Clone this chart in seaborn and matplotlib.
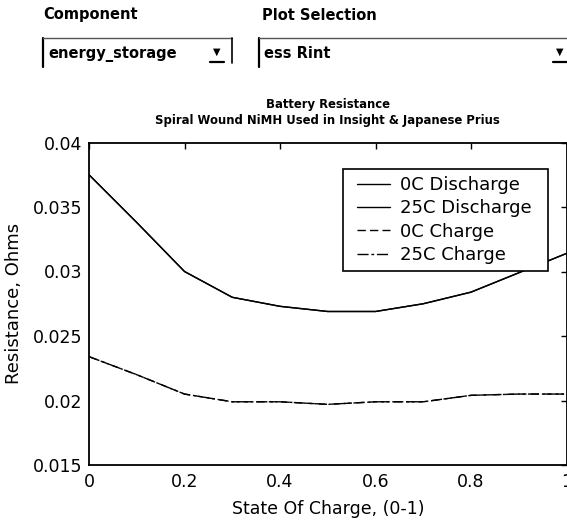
import matplotlib
matplotlib.use("Agg")
import matplotlib.pyplot as plt
import seaborn as sns
import pandas as pd
from matplotlib.patches import Rectangle
from matplotlib.lines import Line2D

# State of charge grid and internal resistance tables (Ohms)
soc = [0.0, 0.1, 0.2, 0.3, 0.4, 0.5, 0.6, 0.7, 0.8, 0.9, 1.0]
r_dis_0c = [0.0375, 0.0338, 0.0300, 0.0280, 0.0273, 0.0269, 0.0269, 0.0275, 0.0284, 0.0299, 0.0314]
r_dis_25c = [0.0375, 0.0338, 0.0300, 0.0280, 0.0273, 0.0269, 0.0269, 0.0275, 0.0284, 0.0299, 0.0314]
r_chg_0c = [0.0234, 0.0220, 0.0205, 0.0199, 0.0199, 0.0197, 0.0199, 0.0199, 0.0204, 0.0205, 0.0205]
r_chg_25c = [0.0234, 0.0220, 0.0205, 0.0199, 0.0199, 0.0197, 0.0199, 0.0199, 0.0204, 0.0205, 0.0205]

series_names = ["0C Discharge", "25C Discharge", "0C Charge", "25C Charge"]
series_vals = [r_dis_0c, r_dis_25c, r_chg_0c, r_chg_25c]
series_styles = ["-", "-", (0, (6, 3)), (0, (8, 2, 2, 2))]

x_ticks = [0, 0.2, 0.4, 0.6, 0.8, 1]
x_ticklabels = ["0", "0.2", "0.4", "0.6", "0.8", "1"]
y_ticks = [0.015, 0.02, 0.025, 0.03, 0.035, 0.04]
y_ticklabels = ["0.015", "0.02", "0.025", "0.03", "0.035", "0.04"]

frames = []
for name, vals in zip(series_names, series_vals):
    frames.append(pd.DataFrame({"soc": soc, "R": vals, "series": name}))
df = pd.concat(frames, ignore_index=True)

sns.set_theme(style="white")
plt.rcParams["font.family"] = ["DejaVu Sans"]
plt.rcParams["text.color"] = "black"
plt.rcParams["axes.labelcolor"] = "black"

W, H = 567, 523
fig = plt.figure(figsize=(W / 100, H / 100), dpi=100)
ax = fig.add_axes([89 / W, 1 - 465 / H, 477.5 / W, (465 - 142.5) / H])

for name, ls in zip(series_names, series_styles):
    sub = df[df["series"] == name]
    sns.lineplot(data=sub, x="soc", y="R", ax=ax, color="black", lw=1.0,
                 linestyle=ls, label=name, legend=False)

ax.set_xlim(0, 1)
ax.set_ylim(0.015, 0.04)
ax.set_xticks(x_ticks)
ax.set_xticklabels(x_ticklabels)
ax.set_yticks(y_ticks)
ax.set_yticklabels(y_ticklabels)
ax.tick_params(direction="in", length=4, width=1, colors="black", labelsize=12.5,
               top=True, right=True)
ax.tick_params(axis="x", pad=6)
ax.tick_params(axis="y", pad=5)
for sp in ax.spines.values():
    sp.set_color("black")
    sp.set_linewidth(1.3)
    sp.set_visible(True)

ax.set_xlabel("State Of Charge, (0-1)", fontsize=12.5, color="black", labelpad=6)
ax.set_ylabel("Resistance, Ohms", fontsize=13, color="black", labelpad=7)
ax.set_title("Battery Resistance\nSpiral Wound NiMH Used in Insight & Japanese Prius",
             fontsize=8.4, fontweight="bold", color="black", linespacing=1.35, pad=13)

# Legend: content laid out by matplotlib, frame drawn with wider side margins
handles = [Line2D([0], [0], color="black", lw=1.0, linestyle=ls) for ls in series_styles]
leg = ax.legend(handles, series_names, loc="upper right", bbox_to_anchor=(0.942, 0.918),
                fontsize=13, frameon=True, fancybox=False,
                handlelength=1.85, handletextpad=0.55,
                labelspacing=0.29, borderpad=0.4, borderaxespad=0)
for t in leg.get_texts():
    t.set_color("black")
leg.get_frame().set_visible(False)
fig.canvas.draw()
bb = leg.get_window_extent().transformed(fig.transFigure.inverted())
fig.add_artist(Rectangle((bb.x0 - 6 / W, bb.y0), bb.width + 15 / W, bb.height,
                         transform=fig.transFigure, facecolor="white",
                         edgecolor="black", lw=1.2, zorder=4))
leg.set_zorder(5)
leg.remove()
fig.add_artist(leg)

# Control panel above the axes
fig.text(43 / W, 1 - 15 / H, "Component", fontsize=10.5, fontweight="bold",
         va="center", ha="left", color="black")
fig.text(262 / W, 1 - 15 / H, "Plot Selection", fontsize=10.5, fontweight="bold",
         va="center", ha="left", color="black")

for x0, x1, label, arrow_x in [(43, 232, "energy_storage", 217), (259, 590, "ess Rint", 560)]:
    top, bot = 1 - 38 / H, 1 - 67 / H
    fig.add_artist(Line2D([x0 / W, x0 / W], [bot, top], transform=fig.transFigure,
                          color="black", lw=1.6))
    fig.add_artist(Line2D([x0 / W, x1 / W], [top, top], transform=fig.transFigure,
                          color="#555555", lw=1.0))
    if x1 < W:
        fig.add_artist(Line2D([x1 / W, x1 / W], [1 - 63 / H, top],
                              transform=fig.transFigure, color="black", lw=1.2))
    fig.text((x0 + 5) / W, 1 - 54 / H, label, fontsize=10.5, fontweight="bold",
             va="center", ha="left", color="black")
    fig.text(arrow_x / W, 1 - 52 / H, "▼", fontsize=7, va="center", ha="center",
             color="black")
    fig.add_artist(Line2D([(arrow_x - 7) / W, (arrow_x + 7) / W],
                          [1 - 62 / H, 1 - 62 / H],
                          transform=fig.transFigure, color="black", lw=1.6))

fig.savefig("out.png", dpi=100, facecolor="white")
